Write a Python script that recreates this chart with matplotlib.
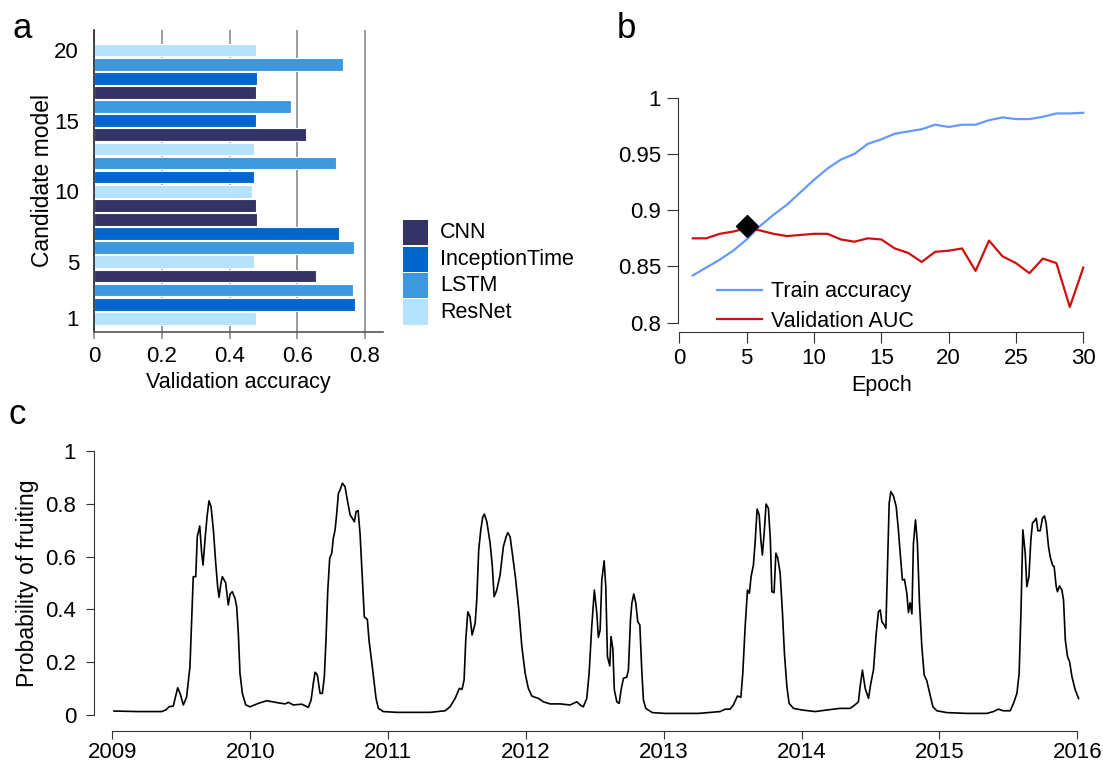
import numpy as np
import matplotlib
matplotlib.use("Agg")
import matplotlib.pyplot as plt
from matplotlib.patches import Rectangle

plt.rcParams['font.family'] = ['Liberation Sans', 'DejaVu Sans']
plt.rcParams['font.size'] = 15.5

# panel a: validation accuracy of candidate models
model_ids = list(range(1, 21))
model_types = ['ResNet', 'InceptionTime', 'LSTM', 'CNN', 'ResNet', 'LSTM', 'InceptionTime',
               'CNN', 'CNN', 'ResNet', 'InceptionTime', 'LSTM', 'ResNet', 'CNN',
               'InceptionTime', 'LSTM', 'CNN', 'InceptionTime', 'LSTM', 'ResNet']
val_acc = [0.478, 0.771, 0.763, 0.656, 0.471, 0.767, 0.724, 0.480, 0.478, 0.467,
           0.473, 0.713, 0.471, 0.625, 0.478, 0.581, 0.478, 0.480, 0.735, 0.478]
type_names = ['CNN', 'InceptionTime', 'LSTM', 'ResNet']
type_colors = {'CNN': '#333366', 'InceptionTime': '#0066cc',
               'LSTM': '#3d98dd', 'ResNet': '#b5e2fd'}

# panel b: training curve
epochs = list(range(1, 31))
train_acc = [0.842, 0.849, 0.856, 0.864, 0.874, 0.886, 0.896, 0.905, 0.916, 0.927,
             0.937, 0.945, 0.950, 0.959, 0.963, 0.968, 0.970, 0.972, 0.976, 0.974,
             0.976, 0.976, 0.980, 0.9825, 0.981, 0.981, 0.983, 0.986, 0.986, 0.9866]
val_auc = [0.875, 0.875, 0.879, 0.881, 0.884, 0.882, 0.879, 0.877, 0.878, 0.879,
           0.879, 0.874, 0.872, 0.875, 0.874, 0.866, 0.862, 0.854, 0.863, 0.864,
           0.866, 0.846, 0.873, 0.859, 0.853, 0.844, 0.857, 0.853, 0.814, 0.849]
best_epoch = 5
best_value = 0.886

# panel c: predicted probability of fruiting
years = [2009.011, 2009.187, 2009.357, 2009.386, 2009.410, 2009.441, 2009.473, 2009.490,
         2009.514, 2009.538, 2009.562, 2009.586, 2009.604, 2009.615, 2009.633, 2009.647,
         2009.657, 2009.671, 2009.686, 2009.700, 2009.715, 2009.732, 2009.749, 2009.763,
         2009.773, 2009.787, 2009.797, 2009.821, 2009.840, 2009.853, 2009.869, 2009.889,
         2009.901, 2009.913, 2009.925, 2009.942, 2009.967, 2009.998, 2010.058, 2010.119,
         2010.192, 2010.252, 2010.276, 2010.312, 2010.373, 2010.421, 2010.441, 2010.457,
         2010.470, 2010.486, 2010.506, 2010.523, 2010.537, 2010.549, 2010.562, 2010.576,
         2010.591, 2010.602, 2010.615, 2010.627, 2010.639, 2010.651, 2010.668, 2010.687,
         2010.704, 2010.724, 2010.740, 2010.755, 2010.767, 2010.782, 2010.796, 2010.813,
         2010.827, 2010.849, 2010.861, 2010.888, 2010.912, 2010.929, 2010.965, 2011.062,
         2011.183, 2011.304, 2011.413, 2011.449, 2011.486, 2011.517, 2011.536, 2011.551,
         2011.563, 2011.578, 2011.594, 2011.609, 2011.631, 2011.643, 2011.657, 2011.672,
         2011.686, 2011.698, 2011.716, 2011.740, 2011.756, 2011.769, 2011.788, 2011.812,
         2011.836, 2011.856, 2011.868, 2011.885, 2011.904, 2011.923, 2011.948, 2011.970,
         2011.994, 2012.017, 2012.042, 2012.066, 2012.090, 2012.126, 2012.175, 2012.248,
         2012.320, 2012.344, 2012.369, 2012.393, 2012.416, 2012.441, 2012.458, 2012.477,
         2012.496, 2012.514, 2012.525, 2012.538, 2012.550, 2012.567, 2012.579, 2012.591,
         2012.608, 2012.617, 2012.630, 2012.641, 2012.659, 2012.676, 2012.690, 2012.707,
         2012.731, 2012.743, 2012.758, 2012.768, 2012.782, 2012.797, 2012.811, 2012.826,
         2012.840, 2012.852, 2012.869, 2012.917, 2013.009, 2013.251, 2013.409, 2013.445,
         2013.481, 2013.505, 2013.534, 2013.559, 2013.573, 2013.590, 2013.607, 2013.621,
         2013.633, 2013.650, 2013.662, 2013.677, 2013.692, 2013.704, 2013.715, 2013.728,
         2013.742, 2013.759, 2013.773, 2013.784, 2013.800, 2013.813, 2013.827, 2013.844,
         2013.861, 2013.875, 2013.893, 2013.909, 2013.941, 2014.002, 2014.098, 2014.183,
         2014.279, 2014.352, 2014.376, 2014.395, 2014.412, 2014.424, 2014.441, 2014.461,
         2014.485, 2014.502, 2014.521, 2014.541, 2014.557, 2014.570, 2014.582, 2014.599,
         2014.611, 2014.623, 2014.635, 2014.647, 2014.666, 2014.686, 2014.702, 2014.715,
         2014.731, 2014.746, 2014.763, 2014.775, 2014.787, 2014.800, 2014.811, 2014.826,
         2014.840, 2014.855, 2014.872, 2014.889, 2014.908, 2014.932, 2014.952, 2014.981,
         2015.054, 2015.199, 2015.344, 2015.392, 2015.428, 2015.464, 2015.513, 2015.537,
         2015.562, 2015.578, 2015.591, 2015.605, 2015.622, 2015.634, 2015.649, 2015.663,
         2015.675, 2015.689, 2015.702, 2015.714, 2015.731, 2015.747, 2015.762, 2015.774,
         2015.791, 2015.803, 2015.820, 2015.832, 2015.847, 2015.856, 2015.871, 2015.888,
         2015.900, 2015.913, 2015.929, 2015.944, 2015.961, 2015.985, 2016.009]
prob = [0.015, 0.013, 0.013, 0.019, 0.031, 0.034, 0.103, 0.082,
        0.038, 0.069, 0.183, 0.524, 0.524, 0.675, 0.716, 0.613,
        0.568, 0.663, 0.751, 0.811, 0.789, 0.701, 0.575, 0.486,
        0.446, 0.499, 0.524, 0.501, 0.417, 0.458, 0.467, 0.442,
        0.410, 0.309, 0.158, 0.082, 0.038, 0.031, 0.044, 0.054,
        0.047, 0.042, 0.048, 0.038, 0.041, 0.029, 0.057, 0.120,
        0.162, 0.152, 0.082, 0.082, 0.145, 0.284, 0.473, 0.594,
        0.613, 0.669, 0.701, 0.764, 0.840, 0.852, 0.878, 0.865,
        0.814, 0.758, 0.745, 0.732, 0.770, 0.774, 0.688, 0.511,
        0.372, 0.362, 0.284, 0.170, 0.063, 0.025, 0.013, 0.010,
        0.010, 0.010, 0.016, 0.031, 0.063, 0.101, 0.097, 0.133,
        0.284, 0.391, 0.372, 0.303, 0.347, 0.436, 0.625, 0.701,
        0.749, 0.761, 0.732, 0.650, 0.562, 0.448, 0.473, 0.530,
        0.638, 0.675, 0.691, 0.675, 0.600, 0.524, 0.398, 0.259,
        0.158, 0.101, 0.072, 0.067, 0.063, 0.050, 0.042, 0.042,
        0.038, 0.044, 0.050, 0.038, 0.031, 0.063, 0.158, 0.334,
        0.473, 0.385, 0.294, 0.322, 0.511, 0.584, 0.486, 0.221,
        0.186, 0.297, 0.253, 0.095, 0.050, 0.044, 0.095, 0.139,
        0.143, 0.170, 0.360, 0.423, 0.458, 0.423, 0.353, 0.341,
        0.170, 0.057, 0.025, 0.009, 0.006, 0.006, 0.013, 0.022,
        0.022, 0.038, 0.072, 0.067, 0.158, 0.334, 0.473, 0.461,
        0.524, 0.568, 0.650, 0.780, 0.758, 0.663, 0.606, 0.688,
        0.799, 0.783, 0.663, 0.467, 0.463, 0.613, 0.594, 0.537,
        0.385, 0.234, 0.107, 0.044, 0.025, 0.019, 0.013, 0.019,
        0.025, 0.025, 0.034, 0.042, 0.050, 0.107, 0.170, 0.101,
        0.063, 0.120, 0.170, 0.309, 0.391, 0.398, 0.353, 0.341,
        0.328, 0.562, 0.802, 0.846, 0.830, 0.789, 0.701, 0.613,
        0.511, 0.514, 0.461, 0.388, 0.425, 0.383, 0.650, 0.739,
        0.650, 0.423, 0.259, 0.152, 0.130, 0.076, 0.031, 0.016,
        0.009, 0.006, 0.006, 0.013, 0.022, 0.016, 0.016, 0.044,
        0.082, 0.158, 0.385, 0.701, 0.613, 0.486, 0.524, 0.663,
        0.728, 0.735, 0.745, 0.698, 0.698, 0.745, 0.754, 0.726,
        0.638, 0.600, 0.568, 0.562, 0.486, 0.467, 0.489, 0.473,
        0.436, 0.284, 0.221, 0.202, 0.145, 0.095, 0.063]

W, H = 1103, 763
fig = plt.figure(figsize=(W / 100, H / 100), dpi=100)


def px_axes(left, top, right, bottom):
    return fig.add_axes([left / W, 1 - bottom / H, (right - left) / W, (bottom - top) / H])


spine_col = '#333333'
tick_fs = 16

# ---- panel a ----
ax_a = px_axes(94.3, 30, 383.3, 331.7)
ax_a.set_axisbelow(True)
ax_a.barh(model_ids, val_acc, height=0.9,
          color=[type_colors[t] for t in model_types], edgecolor='white', linewidth=0.8)
ax_a.set_xlim(0, 0.854)
ax_a.set_ylim(0.05, 21.42)
ax_a.set_xticks([0, 0.2, 0.4, 0.6, 0.8])
ax_a.set_xticklabels(['0', '0.2', '0.4', '0.6', '0.8'])
ax_a.set_yticks([1, 5, 10, 15, 20])
ax_a.xaxis.grid(True, color='#8a8a8a', linewidth=1.2)
ax_a.tick_params(axis='x', length=5, color='#8a8a8a', width=1.2, pad=5, labelsize=tick_fs)
ax_a.tick_params(axis='y', length=0, pad=11, labelsize=tick_fs)
for s in ['top', 'right']:
    ax_a.spines[s].set_visible(False)
ax_a.spines['left'].set_color('#222222')
ax_a.spines['bottom'].set_color('#555555')
ax_a.spines['left'].set_linewidth(1.2)
ax_a.spines['bottom'].set_linewidth(1.2)
ax_a.set_xlabel('Validation accuracy', labelpad=4)
ax_a.set_ylabel('Candidate model', labelpad=0, fontsize=16.5)

# legend of model families, drawn as boxes in figure pixels
for i, name in enumerate(type_names):
    top = 220 + 26.5 * i
    fig.patches.append(Rectangle((403 / W, 1 - (top + 25) / H), 25 / W, 25 / H,
                                 transform=fig.transFigure, facecolor=type_colors[name],
                                 edgecolor='none'))
    fig.text(440 / W, 1 - (top + 13) / H, name, va='center', ha='left', fontsize=15.5)

# ---- panel b ----
ax_b = px_axes(677.7, 88.7, 1084.9, 331.7)
ax_b.plot(epochs, train_acc, color='#6699ff', linewidth=1.6, label='Train accuracy')
ax_b.plot(epochs, val_auc, color='#cc1111', linewidth=1.6, label='Validation AUC')
ax_b.plot([best_epoch], [best_value], marker='D', color='black', markersize=11, linestyle='none')
ax_b.set_xlim(-0.12, 30.12)
ax_b.set_ylim(0.792, 1.008)
ax_b.set_xticks([0, 5, 10, 15, 20, 25, 30])
ax_b.set_yticks([0.8, 0.85, 0.9, 0.95, 1])
ax_b.set_yticklabels(['0.8', '0.85', '0.9', '0.95', '1'])
for s in ['top', 'right']:
    ax_b.spines[s].set_visible(False)
ax_b.spines['left'].set_bounds(0.8, 1)
ax_b.spines['bottom'].set_bounds(0, 30)
for s in ['left', 'bottom']:
    ax_b.spines[s].set_color(spine_col)
ax_b.tick_params(length=8, color=spine_col, pad=4, labelsize=tick_fs)
ax_b.set_xlabel('Epoch', labelpad=4)
ax_b.legend(loc='lower left', bbox_to_anchor=((717 - 677.7) / (1084.9 - 677.7), 0.0),
            frameon=False, handlelength=2.1, handletextpad=0.4, labelspacing=0.4,
            borderpad=0, borderaxespad=0.0, fontsize=15.5)

# ---- panel c ----
ax_c = px_axes(94.3, 435.3, 1095.5, 730.7)
ax_c.plot(years, prob, color='black', linewidth=1.2)
ax_c.set_xlim(2008.868, 2016.132)
ax_c.set_ylim(-0.0595, 1.0595)
ax_c.set_xticks(list(range(2009, 2017)))
ax_c.set_yticks([0, 0.2, 0.4, 0.6, 0.8, 1])
ax_c.set_yticklabels(['0', '0.2', '0.4', '0.6', '0.8', '1'])
for s in ['top', 'right']:
    ax_c.spines[s].set_visible(False)
ax_c.spines['left'].set_bounds(0, 1)
ax_c.spines['bottom'].set_bounds(2009, 2016)
for s in ['left', 'bottom']:
    ax_c.spines[s].set_color(spine_col)
ax_c.tick_params(length=6, color=spine_col, labelsize=tick_fs)
ax_c.tick_params(axis='x', pad=2)
ax_c.tick_params(axis='y', pad=7)
ax_c.set_ylabel('Probability of fruiting', labelpad=4.5, fontsize=16.5)

# panel letters
fig.text(12 / W, 1 - 38 / H, 'a', fontsize=25)
fig.text(617 / W, 1 - 38 / H, 'b', fontsize=25)
fig.text(8 / W, 1 - 424 / H, 'c', fontsize=25)

fig.savefig('out.png', dpi=100)
